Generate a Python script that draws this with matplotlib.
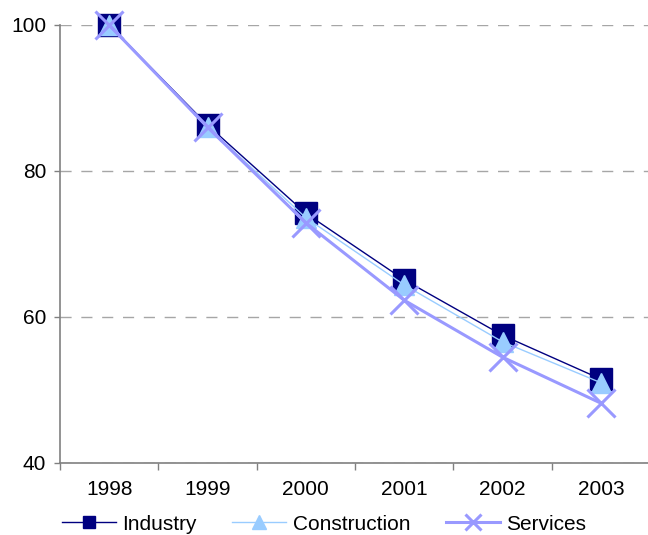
import matplotlib
matplotlib.use("Agg")
import matplotlib.pyplot as plt
from matplotlib.lines import Line2D

plt.rcParams['font.family'] = ['Liberation Sans', 'DejaVu Sans']

years = ["1998", "1999", "2000", "2001", "2002", "2003"]
industry = [100.0, 86.3, 74.2, 65.1, 57.5, 51.5]
construction = [100.0, 86.0, 73.6, 64.4, 56.6, 51.0]
services = [100.0, 86.0, 72.9, 62.3, 54.5, 48.2]

navy = "#000080"
light_blue = "#99CCFF"
lavender = "#9999FF"

fig = plt.figure(figsize=(6.48, 5.35), dpi=100)
ax = fig.add_axes([60 / 648, 1 - 463 / 535, 590 / 648, (463 - 25) / 535])

x = list(range(len(years)))

ax.plot(x, industry, color=navy, lw=1.0, marker="s", ms=16,
        mfc=navy, mec=navy, clip_on=False, zorder=3)
ax.plot(x, construction, color=light_blue, lw=1.0, marker="^", ms=15,
        mfc=light_blue, mec=light_blue, clip_on=False, zorder=4)
ax.plot(x, services, color=lavender, lw=2.2, marker="x", ms=20,
        mew=2.2, mec=lavender, clip_on=False, zorder=5)

ax.set_xlim(-0.5, 5.5)
ax.set_ylim(40, 100)
ax.set_yticks([40, 60, 80, 100])
ax.set_xticks(x)
ax.set_xticklabels(years)
ax.set_xticks([i + 0.5 for i in range(-1, 6)], minor=True)

ax.tick_params(axis="x", which="major", length=0, pad=12, labelsize=15)
ax.tick_params(axis="x", which="minor", length=5, width=1, color="#808080", direction="out")
ax.tick_params(axis="y", length=4, width=1, color="#808080", pad=6, labelsize=15)

ax.yaxis.grid(True, linestyle=(0, (8, 7)), color="#A6A6A6", lw=1)
ax.set_axisbelow(True)

for side in ("top", "right"):
    ax.spines[side].set_visible(False)
for side in ("left", "bottom"):
    ax.spines[side].set_color("#808080")
    ax.spines[side].set_linewidth(1.2)

handles = [
    Line2D([], [], color=navy, lw=1.0, marker="s", ms=9, mfc=navy, mec=navy),
    Line2D([], [], color=light_blue, lw=1.0, marker="^", ms=10, mfc=light_blue, mec=light_blue),
    Line2D([], [], color=lavender, lw=2.2, marker="x", ms=11, mew=2.2, mec=lavender),
]
fig.legend(handles, ["Industry", "Construction", "Services"], loc="center",
           bbox_to_anchor=(0.5, 1 - 524 / 535), ncol=3, frameon=False,
           fontsize=15, handlelength=2.6, handletextpad=0.3, columnspacing=1.7)

fig.savefig("out.png", dpi=100)
